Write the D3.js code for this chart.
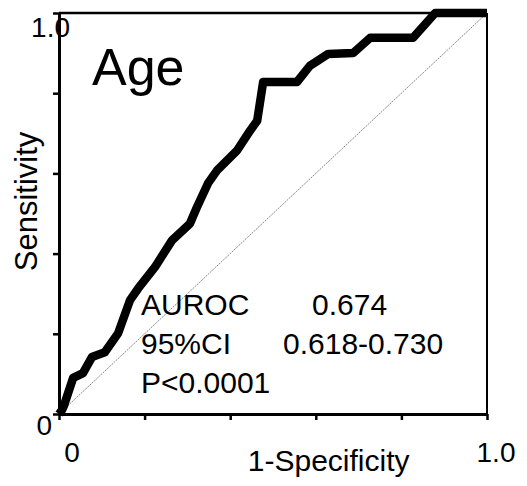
<!DOCTYPE html>
<html>
<head>
<meta charset="utf-8">
<script src="https://cdn.jsdelivr.net/npm/d3@7"></script>
<style>
  body { margin: 0; background: #fff; }
  text { font-family: "Liberation Sans", Arial, sans-serif; fill: #000; }
</style>
</head>
<body>
<div id="chart"></div>
<script>
// ROC curve points
const FPR = [0, 0.007, 0.012, 0.033, 0.056, 0.077, 0.107, 0.138, 0.166, 0.185, 0.224, 0.264, 0.306, 0.322,
             0.348, 0.369, 0.416, 0.446, 0.463, 0.477, 0.556, 0.586, 0.629, 0.687, 0.727, 0.827, 0.879, 1.0];
const TPR = [0, 0.010, 0.022, 0.090, 0.102, 0.142, 0.154, 0.201, 0.284, 0.313, 0.366, 0.433, 0.475, 0.515,
             0.575, 0.607, 0.657, 0.706, 0.731, 0.828, 0.828, 0.868, 0.898, 0.900, 0.938, 0.938, 1.0, 1.0];

const TICKS = [0, 0.2, 0.4, 0.6, 0.8, 1.0];
const STAT_NAMES = ["AUROC", "95%CI", "P<0.0001"];
const STAT_VALUES = ["0.674", "0.618-0.730", ""];
const TITLE = "Age";

const W = 527, H = 486;
const MARGIN = { top: 13, left: 59, right: 40, bottom: 72 };
const WIDTH = W - MARGIN.left - MARGIN.right;
const HEIGHT = H - MARGIN.top - MARGIN.bottom;

const svg = d3.select("#chart")
    .append("svg")
        .attr("width", W)
        .attr("height", H)
    .append("g")
        .attr("transform", `translate(${MARGIN.left}, ${MARGIN.top})`);

const x = d3.scaleLinear().domain([0, 1]).range([0, WIDTH]);
const y = d3.scaleLinear().domain([0, 1]).range([HEIGHT, 0]);

// chance line
svg.append("line")
    .attr("x1", x(0)).attr("y1", y(0))
    .attr("x2", x(1)).attr("y2", y(1))
    .attr("stroke", "#888")
    .attr("stroke-width", 1)
    .attr("stroke-dasharray", "2,1");

// frame top / right
svg.append("line")
    .attr("x1", x(0)).attr("x2", x(1))
    .attr("y1", y(1)).attr("y2", y(1))
    .attr("stroke", "#000").attr("stroke-width", 2.5);
svg.append("line")
    .attr("x1", x(1)).attr("x2", x(1))
    .attr("y1", y(1)).attr("y2", y(0))
    .attr("stroke", "#000").attr("stroke-width", 2);

// ROC curve
const line = d3.line()
    .x((d, i) => x(FPR[i]))
    .y((d, i) => y(TPR[i]));
svg.append("path")
    .datum(FPR)
    .attr("d", line)
    .attr("fill", "none")
    .attr("stroke", "#000")
    .attr("stroke-width", 8.5)
    .attr("stroke-linejoin", "round");

// AXES
const xAxis = svg.append("g")
    .attr("transform", `translate(0, ${HEIGHT})`)
    .call(d3.axisBottom(x).tickValues(TICKS).tickSize(6).tickSizeOuter(0).tickFormat(""));
const yAxis = svg.append("g")
    .call(d3.axisLeft(y).tickValues(TICKS).tickSize(6).tickSizeOuter(0).tickFormat(""));
xAxis.select(".domain").attr("stroke-width", 3);
yAxis.select(".domain").attr("stroke-width", 3);
svg.selectAll(".tick line").attr("stroke-width", 2.5);

// tick labels (only ends labelled)
svg.append("text")
    .attr("x", x(0) - 7).attr("y", y(0) + 21)
    .attr("text-anchor", "end")
    .attr("font-size", 28)
    .text("0");
svg.append("text")
    .attr("x", x(0) + 11).attr("y", y(1) + 24)
    .attr("text-anchor", "end")
    .attr("font-size", 28)
    .text("1.0");
svg.append("text")
    .attr("x", x(0) + 13).attr("y", y(0) + 48)
    .attr("text-anchor", "middle")
    .attr("font-size", 28)
    .text("0");
svg.append("text")
    .attr("x", x(1) + 9).attr("y", y(0) + 48)
    .attr("text-anchor", "middle")
    .attr("font-size", 28)
    .text("1.0");

// axis titles
svg.append("text")
    .attr("x", x(0.63)).attr("y", HEIGHT + 57)
    .attr("text-anchor", "middle")
    .attr("font-size", 30)
    .text("1-Specificity");
svg.append("text")
    .attr("transform", `translate(-22, ${y(0.53)}) rotate(-90)`)
    .attr("text-anchor", "middle")
    .attr("font-size", 31)
    .text("Sensitivity");

// title
svg.append("text")
    .attr("x", 33).attr("y", 72)
    .attr("font-size", 52)
    .text(TITLE);

// stats
const stats = svg.append("g").attr("font-size", 30);
STAT_NAMES.forEach((name, i) => {
    stats.append("text")
        .attr("x", 82).attr("y", 302 + i * 39)
        .text(name);
});
stats.append("text").attr("x", 253).attr("y", 302).text(STAT_VALUES[0]);
stats.append("text").attr("x", 224).attr("y", 341).text(STAT_VALUES[1]);
</script>
</body>
</html>
